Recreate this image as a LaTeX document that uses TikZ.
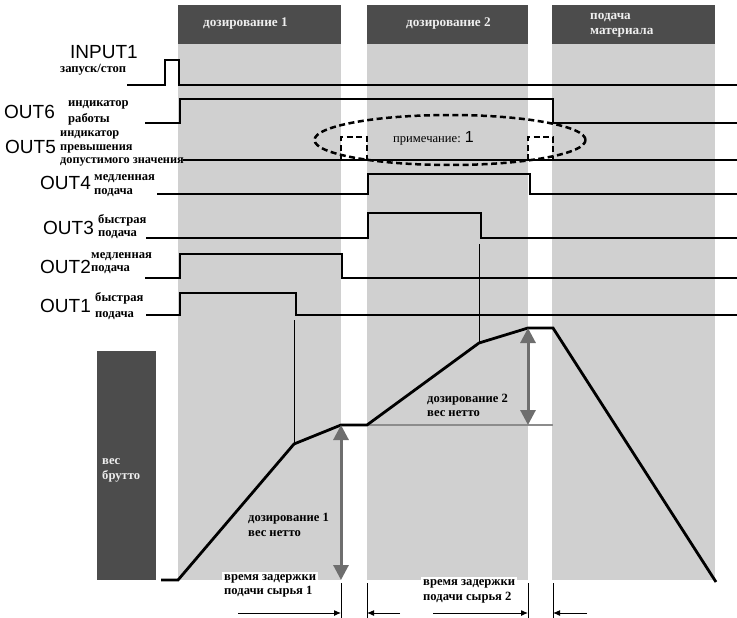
\documentclass[tikz,border=0pt]{standalone}
\usepackage{fontspec}
\setmainfont{Liberation Serif}
\newfontfamily\sansf{Liberation Sans}
\usetikzlibrary{arrows.meta}
\definecolor{band}{RGB}{208,208,208}
\definecolor{hdr}{RGB}{76,76,76}
\definecolor{garrow}{RGB}{110,110,110}
\definecolor{gline}{RGB}{140,140,140}
\definecolor{htext}{RGB}{238,238,238}
\begin{document}
\begin{tikzpicture}[x=1pt,y=-1pt,
  big/.style={font=\sansf\fontsize{19}{19}\selectfont, inner sep=0pt, anchor=west},
  sm/.style={font=\bfseries\fontsize{12.6}{14}\selectfont, inner sep=0pt, align=left, anchor=west},
  hdrtext/.style={sm, text=htext, font=\bfseries\fontsize{13.2}{15}\selectfont},
  sig/.style={line width=2.8pt, line join=miter},
  dsig/.style={line width=2.5pt, dash pattern=on 6pt off 3.5pt},
  thinl/.style={line width=1pt},
  garr/.style={draw=garrow, line width=3pt, {Triangle[length=15pt,width=15pt]}-{Triangle[length=15pt,width=15pt]}},
  dim/.style={line width=1pt, -{Latex[length=7pt,width=6pt]}}
]
\useasboundingbox (0,0) rectangle (737,618);
% bands
\fill[band] (178,44) rectangle (341,580);
\fill[band] (367,44) rectangle (528,580);
\fill[band] (552,44) rectangle (715,580);
\fill[hdr] (178,5) rectangle (341,44);
\fill[hdr] (367,5) rectangle (528,44);
\fill[hdr] (552,5) rectangle (715,44);
\fill[hdr] (97,351) rectangle (156,580);
\node[hdrtext] (h1) at (203,24) {дозирование 1};
\node[hdrtext] (h2) at (406,24) {дозирование 2};
\node[hdrtext] (h3) at (590,25.5) {подача\\материала};
\node[hdrtext, font=\bfseries\fontsize{12.6}{15}\selectfont] (brutto) at (102,470) {вес\\брутто};

% left labels
\node[big] (in1) at (70,52) {INPUT1};
\node[sm] (in1t) at (60,70) {запуск/стоп};
\node[big] (o6) at (4,112) {OUT6};
\node[sm, font=\bfseries\fontsize{12.6}{16}\selectfont] (o6t) at (68,113) {индикатор\\работы};
\node[big] (o5) at (5,147) {OUT5};
\node[sm, font=\bfseries\fontsize{12.3}{13.5}\selectfont] (o5t) at (60,148.5) {индикатор\\превышения\\допустимого значения};
\node[big] (o4) at (40,183) {OUT4};
\node[sm] (o4t) at (94,186) {медленная\\подача};
\node[big] (o3) at (43,228) {OUT3};
\node[sm, font=\bfseries\fontsize{12.6}{13}\selectfont] (o3t) at (98,226.5) {быстрая\\подача};
\node[big] (o2) at (40,267) {OUT2};
\node[sm, font=\bfseries\fontsize{12.6}{13}\selectfont] (o2t) at (91,263.5) {медленная\\подача};
\node[big] (o1) at (40,306) {OUT1};
\node[sm, font=\bfseries\fontsize{12.6}{16}\selectfont] (o1t) at (95,306) {быстрая\\подача};

% signals
\draw[sig] (127,85) -- (165,85) -- (165,60) -- (179,60) -- (179,85) -- (737,85);
\draw[sig] (145,123) -- (180,123) -- (180,99) -- (553,99) -- (553,123) -- (737,123);
\draw[sig] (183,160) -- (737,160);
\draw[dsig] (341,160) -- (341,137) -- (367,137) -- (367,160);
\draw[dsig] (528,160) -- (528,137) -- (553,137) -- (553,160);
\draw[dsig] (450,140) ellipse [x radius=135.5pt, y radius=25pt];
\node[font=\fontsize{12.6}{14}\selectfont, inner sep=0pt, anchor=west] (note) at (393,138) {примечание: {\sansf\fontsize{16}{16}\selectfont 1}};
\draw[sig] (157,194) -- (368,194) -- (368,174) -- (530,174) -- (530,194) -- (737,194);
\draw[sig] (146,238) -- (368,238) -- (368,213) -- (481,213) -- (481,238) -- (737,238);
\draw[sig] (145,278) -- (180,278) -- (180,254) -- (342,254) -- (342,278) -- (737,278);
\draw[sig] (146,315) -- (180,315) -- (180,293) -- (296,293) -- (296,315) -- (737,315);

% weight curve
\coordinate (w0) at (161,580);
\coordinate (w1) at (178,580);
\coordinate (w2) at (294,444);
\coordinate (w3) at (341,425);
\coordinate (w4) at (367,425);
\coordinate (w5) at (479,343);
\coordinate (w6) at (528,328);
\coordinate (w7) at (553,328);
\coordinate (w8) at (716,582);
\coordinate (b1) at (341,580);
\coordinate (g2) at (528,425);
\coordinate (g3) at (553,425);
\draw[thinl] (294,320) -- (w2);
\draw[thinl] (479,244) -- (w5);
\draw[draw=gline, line width=1.5pt] (w4) -- (g3);
\draw[sig] (w0) -- (w1) -- (w2) -- (w3) -- (w4) -- (w5) -- (w6) -- (w7) -- (w8);
\draw[garr] (w3) -- (b1);
\draw[garr] (w6) -- (g2);
\node[sm, font=\bfseries\fontsize{12.6}{15}\selectfont] (n1) at (248,524.5) {дозирование 1\\вес нетто};
\node[sm] (n2) at (427,405) {дозирование 2\\вес нетто};

% bottom delay dimensions
\node[sm, fill=white, inner sep=2pt, anchor=north west] (d1) at (222,572) {время задержки\\подачи сырья 1};
\node[sm, fill=white, inner sep=2pt, font=\bfseries\fontsize{12.6}{15}\selectfont, anchor=north west] (d2) at (421,577) {время задержки\\подачи сырья 2};
\coordinate (v1t) at (341,583); \coordinate (v1b) at (341,618);
\coordinate (v2t) at (367,583); \coordinate (v2b) at (367,618);
\coordinate (v3t) at (528,583); \coordinate (v3b) at (528,618);
\coordinate (v4t) at (553,583); \coordinate (v4b) at (553,618);
\draw[thinl] (v1t) -- (v1b);
\draw[thinl] (v2t) -- (v2b);
\draw[thinl] (v3t) -- (v3b);
\draw[thinl] (v4t) -- (v4b);
\coordinate (a1) at (238,613);
\coordinate (a2) at (400,613);
\coordinate (a3) at (433,613);
\coordinate (a4) at (587,613);
\draw[dim] (a1) -- (v1b |- a1);
\draw[dim] (a2) -- (v2b |- a2);
\draw[dim] (a3) -- (v3b |- a3);
\draw[dim] (a4) -- (v4b |- a4);
\end{tikzpicture}
\end{document}
